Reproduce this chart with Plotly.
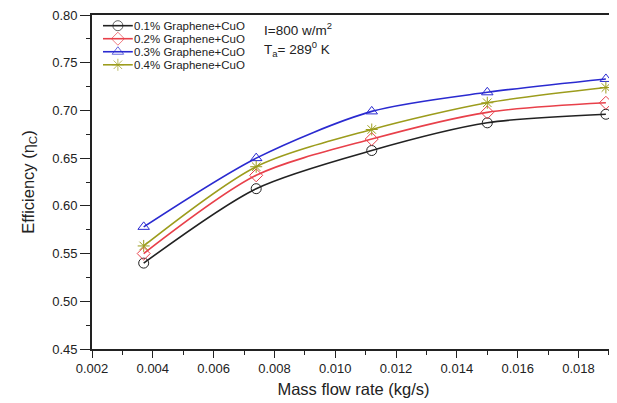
import plotly.graph_objects as go

mass_flow = [0.0037, 0.0074, 0.0112, 0.0150, 0.0189]
eff_01 = [0.540, 0.618, 0.658, 0.687, 0.696]
eff_02 = [0.550, 0.632, 0.670, 0.698, 0.708]
eff_03 = [0.578, 0.650, 0.699, 0.719, 0.733]
eff_04 = [0.558, 0.641, 0.680, 0.708, 0.724]

series_names = ["0.1% Graphene+CuO", "0.2% Graphene+CuO",
                "0.3% Graphene+CuO", "0.4% Graphene+CuO"]
series_vals = [eff_01, eff_02, eff_03, eff_04]
colors = ["#222222", "#e8404a", "#2a2ad0", "#9c9c1c"]
symbols = ["circle-open", "diamond-open", "triangle-up-open", "asterisk-open"]

fig = go.Figure()
for name, vals, c, s in zip(series_names, series_vals, colors, symbols):
    fig.add_trace(go.Scatter(
        x=mass_flow, y=vals, name=name, mode="lines+markers", showlegend=False,
        line=dict(color=c, width=1.6, shape="spline", smoothing=0.8),
        marker=dict(symbol=s, size=10, color=c, line=dict(color=c, width=1)),
    ))

# legend drawn inside the plot (compact rows like the reference)
leg_rows = [0.968, 0.929, 0.890, 0.851]
for name, c, s, yy in zip(series_names, colors, symbols, leg_rows):
    fig.add_trace(go.Scatter(
        x=[0.021, 0.0495, 0.078], y=[yy, yy, yy], xaxis="x2", yaxis="y2",
        mode="lines+markers", showlegend=False, hoverinfo="skip",
        line=dict(color=c, width=1.6),
        marker=dict(symbol=s, size=[0, 10, 0], color=c, line=dict(color=c, width=1)),
    ))
    fig.add_annotation(xref="x2", yref="y2", x=0.077, y=yy, xanchor="left",
                       yanchor="middle", showarrow=False, text=name,
                       font=dict(size=11.5, color="#222222"))

axis_common = dict(
    showline=True, linecolor="#222222", linewidth=1.6, mirror=True,
    ticks="outside", tickwidth=1.4, tickcolor="#222222",
    showgrid=False, zeroline=False, ticklabeloverflow="allow",
    tickfont=dict(family="Liberation Sans, Arial", size=13, color="#222222"),
)

fig.update_layout(
    width=609, height=395,
    margin=dict(l=84, r=0, t=6, b=54),
    paper_bgcolor="white", plot_bgcolor="white",
    font=dict(family="Liberation Sans, Arial", color="#222222"),
    xaxis=dict(
        range=[0.002, 0.0192], tickvals=[0.002, 0.004, 0.006, 0.008, 0.010,
                                          0.012, 0.014, 0.016, 0.018],
        tickformat=".3f", ticklen=7,
        minor=dict(dtick=0.001, ticks="outside", ticklen=4, tickcolor="#222222"),
        title=dict(text="Mass flow rate (kg/s)", font=dict(size=16.5), standoff=8),
        **axis_common,
    ),
    yaxis=dict(
        range=[0.45, 0.80], dtick=0.05, tick0=0.45, tickformat=".2f", ticklen=10,
        minor=dict(dtick=0.025, ticks="outside", ticklen=4, tickcolor="#222222"),
        title=dict(text="Efficiency (η<sub>C</sub>)", font=dict(size=16.5), standoff=14),
        **axis_common,
    ),
    xaxis2=dict(overlaying="x", anchor="y2", range=[0, 1], visible=False),
    yaxis2=dict(overlaying="y", anchor="x2", range=[0, 1], visible=False),
    showlegend=False,
)

fig.add_annotation(xref="paper", yref="paper", x=0.325, y=0.99,
                   xanchor="left", yanchor="top", showarrow=False,
                   text="I=800 w/m<sup>2</sup>", font=dict(size=13.5))
fig.add_annotation(xref="paper", yref="paper", x=0.325, y=0.935,
                   xanchor="left", yanchor="top", showarrow=False,
                   text="T<sub>a</sub>= 289<sup>0</sup> K", font=dict(size=13.5))

fig.write_html("out.html")
